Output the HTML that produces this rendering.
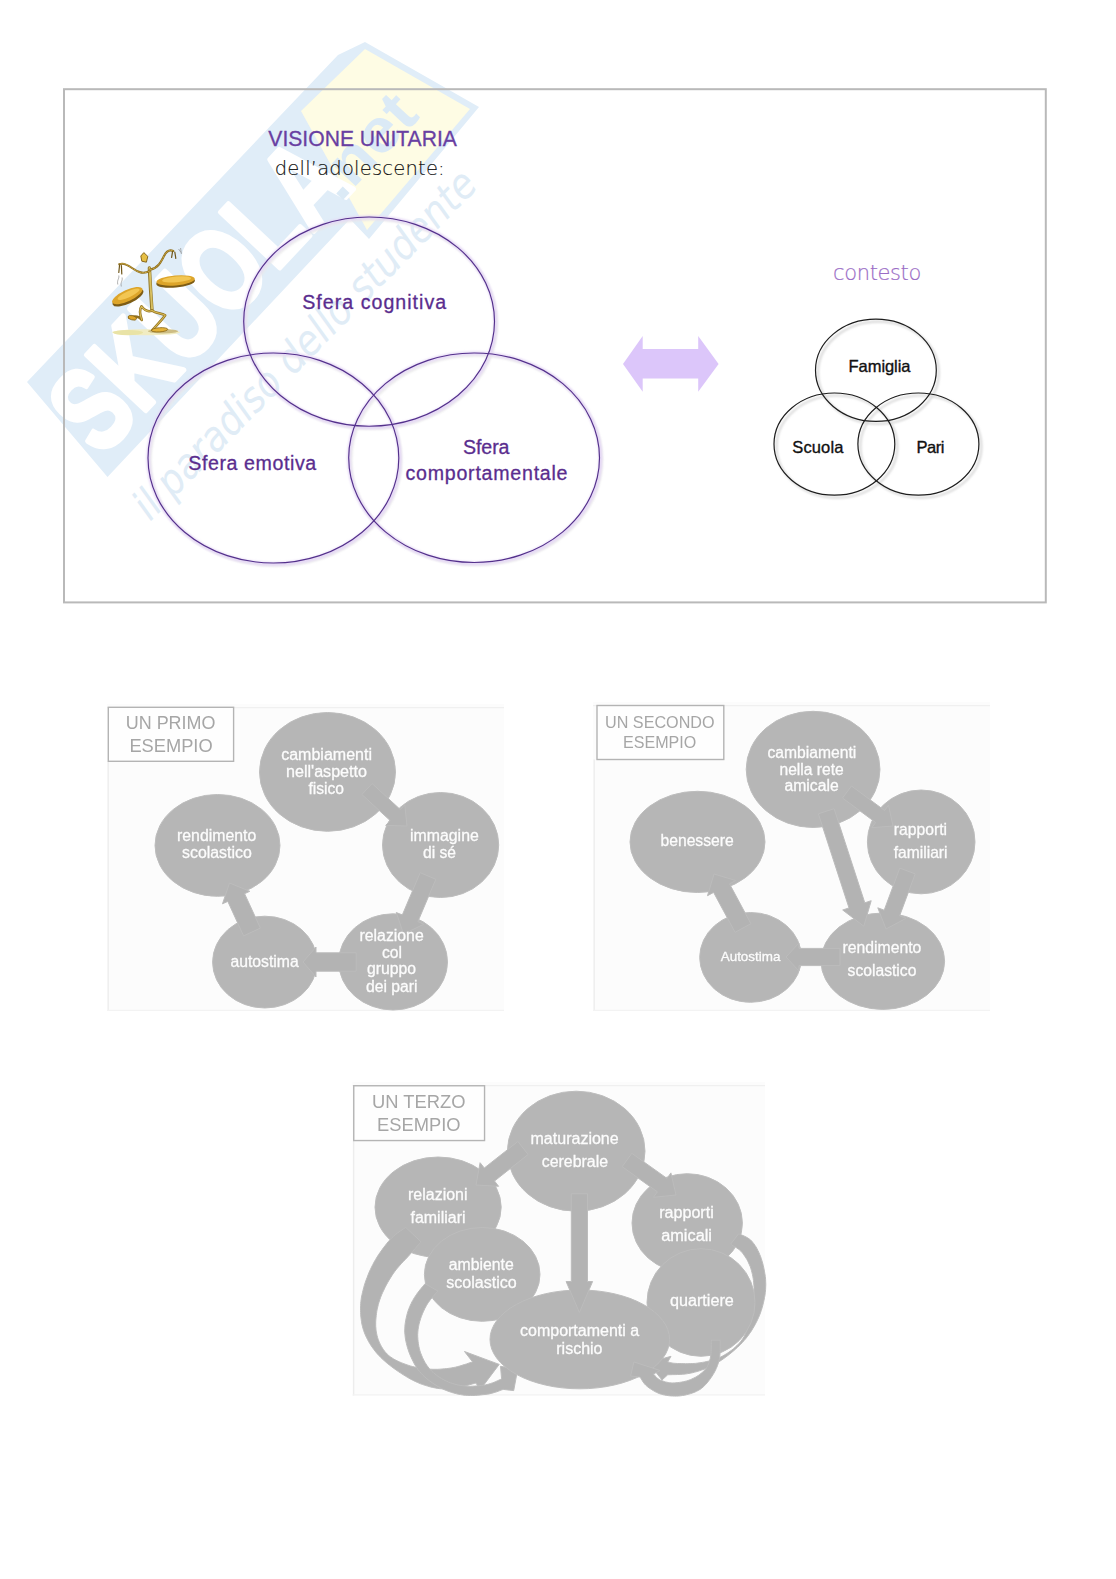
<!DOCTYPE html>
<html lang="it">
<head>
<meta charset="utf-8">
<title>Visione unitaria dell'adolescente</title>
<style>
html,body{margin:0;padding:0;background:#fff;}
body{width:1116px;height:1579px;overflow:hidden;position:relative;font-family:"Liberation Sans","DejaVu Sans",sans-serif;}
svg{position:absolute;left:0;top:0;display:block;}
text{font-family:"Liberation Sans","DejaVu Sans",sans-serif;}
.ttl{font-size:21.8px;fill:#693fa2;stroke:#693fa2;stroke-width:.3px;}
.sub{font-family:"DejaVu Sans Light","DejaVu Sans","Liberation Sans",sans-serif;font-weight:200;font-size:19.5px;fill:#111;stroke:#111;stroke-width:.15px;}
.sf{font-size:19.6px;fill:#5a2d8e;stroke:#5a2d8e;stroke-width:.3px;}
.ctx{font-family:"DejaVu Sans Light","DejaVu Sans","Liberation Sans",sans-serif;font-weight:200;font-size:21px;fill:#9a6cc6;stroke:#9a6cc6;stroke-width:.2px;}
.bk{font-size:16.5px;fill:#111;stroke:#111;stroke-width:.35px;}
.pe{fill:none;stroke:#53308b;stroke-width:1.15px;}
.pg{fill:none;stroke:#e4d6f5;stroke-width:3.5px;}
.be{fill:none;stroke:#1d1d1d;stroke-width:1.2px;}
.bs{fill:none;stroke:#d9d9d9;stroke-width:2.2px;}
.ge{fill:#b6b6b6;stroke:#bdbdbd;stroke-width:1px;}
.ga{fill:#b3b3b3;stroke:#bcbcbc;stroke-width:1px;stroke-linejoin:miter;}
.gt{fill:#fcfcfc;stroke:#fcfcfc;stroke-width:.3px;text-anchor:middle;}
.lb{fill:#fefefe;stroke:#b4b4b4;stroke-width:1.4px;}
.lt{fill:#a6a6a6;text-anchor:middle;}
</style>
</head>
<body>
<svg width="1116" height="1579" viewBox="0 0 1116 1579">
<defs>
<filter id="bl1" x="-10%" y="-10%" width="120%" height="120%"><feGaussianBlur stdDeviation="1.2"/></filter>
<filter id="bl2" x="-10%" y="-10%" width="120%" height="120%"><feGaussianBlur stdDeviation="0.55"/></filter>
<filter id="bl3" x="-10%" y="-10%" width="120%" height="120%"><feGaussianBlur stdDeviation="0.6"/></filter>
</defs>
<rect x="0" y="0" width="1116" height="1579" fill="#ffffff"/>

<!-- watermark -->
<g id="watermark">
<polygon points="27,382 338,55 365,42 479,107 369,239 350,219 107.5,477" fill="#e0edf8"/>
<polygon points="365,49 470,109 367,230 301,111" fill="#fefce4"/>
<g transform="translate(101,458) rotate(-46.8)">
<text x="0" y="0" font-size="118" font-weight="bold" fill="#ffffff" stroke="#ffffff" stroke-width="5" stroke-linejoin="round" textLength="372" lengthAdjust="spacingAndGlyphs">SKUOLA</text>
</g>
<g transform="translate(340,203) rotate(-46.8)">
<text x="0" y="0" font-size="62" font-weight="bold" fill="#dbeaf6" textLength="118" lengthAdjust="spacingAndGlyphs">.net</text>
</g>
<g transform="translate(150,522) rotate(-45.5)">
<text x="0" y="0" font-size="42" font-style="italic" fill="#e0ecf6" textLength="470" lengthAdjust="spacingAndGlyphs" style="font-family:'DejaVu Sans','Liberation Sans',sans-serif">il paradiso dello studente</text>
</g>
</g>
<rect x="64" y="89.2" width="981.8" height="513.2" fill="none" stroke="#b9b9b9" stroke-width="2"/>
<text class="ttl" x="268.3" y="146.2" textLength="188.6" lengthAdjust="spacingAndGlyphs">VISIONE UNITARIA</text>
<text class="sub" x="274.7" y="174.5" textLength="170" lengthAdjust="spacing">dell’adolescente:</text>
<ellipse cx="371.3" cy="324.0" rx="125.4" ry="104.6" fill="none" stroke="#e9e9e9" stroke-width="2.4" filter="url(#bl1)"/>
<ellipse class="pg" cx="369.70000000000005" cy="322.20000000000005" rx="125.80000000000001" ry="105.0" filter="url(#bl1)"/>
<ellipse cx="275.59999999999997" cy="460.4" rx="125.4" ry="105" fill="none" stroke="#e9e9e9" stroke-width="2.4" filter="url(#bl1)"/>
<ellipse class="pg" cx="274.0" cy="458.6" rx="125.80000000000001" ry="105.4" filter="url(#bl1)"/>
<ellipse cx="476.3" cy="460.15" rx="125.4" ry="104.75" fill="none" stroke="#e9e9e9" stroke-width="2.4" filter="url(#bl1)"/>
<ellipse class="pg" cx="474.70000000000005" cy="458.35" rx="125.80000000000001" ry="105.15" filter="url(#bl1)"/>
<ellipse class="pe" cx="369.1" cy="321.6" rx="125.4" ry="104.6"/>
<ellipse class="pe" cx="273.4" cy="458" rx="125.4" ry="105"/>
<ellipse class="pe" cx="474.1" cy="457.75" rx="125.4" ry="104.75"/>
<text class="sf" x="302.2" y="308.6" textLength="144" lengthAdjust="spacing">Sfera cognitiva</text>
<text class="sf" x="188.25" y="470" textLength="128" lengthAdjust="spacing">Sfera emotiva</text>
<text class="sf" x="463" y="453.75" textLength="46.5" lengthAdjust="spacing">Sfera</text>
<text class="sf" x="405.5" y="479.5" textLength="162" lengthAdjust="spacing">comportamentale</text>
<polygon points="623,363.9 642.7,336.1 642.7,349.1 698.2,349.1 698.2,336.1 718.6,363.9 698.2,391.8 698.2,378.4 642.7,378.4 642.7,391.8" fill="#dcc6fa"/>
<text class="ctx" x="833.1" y="279.7" textLength="88.2" lengthAdjust="spacing">contesto</text>
<ellipse class="bs" cx="878.4" cy="372.8" rx="60.4" ry="51.1" filter="url(#bl1)"/>
<ellipse class="bs" cx="836.9" cy="446.6" rx="60.4" ry="51.1" filter="url(#bl1)"/>
<ellipse class="bs" cx="920.9" cy="446.6" rx="60.5" ry="51.1" filter="url(#bl1)"/>
<ellipse class="be" cx="875.9" cy="370.3" rx="60.4" ry="51.1"/>
<ellipse class="be" cx="834.4" cy="444.1" rx="60.4" ry="51.1"/>
<ellipse class="be" cx="918.4" cy="444.1" rx="60.5" ry="51.1"/>
<text class="bk" x="848.6" y="371.9" textLength="61.9" lengthAdjust="spacing">Famiglia</text>
<text class="bk" x="792.3" y="452.8" textLength="51.1" lengthAdjust="spacing">Scuola</text>
<text class="bk" x="916.6" y="452.8" textLength="27.9" lengthAdjust="spacing">Pari</text>
<g id="mascot">
<ellipse cx="146" cy="332.3" rx="34" ry="3" fill="#f1ecc2" filter="url(#bl3)"/>
<ellipse cx="128" cy="332.6" rx="15" ry="2.6" fill="#e9e3a6" filter="url(#bl3)"/>
<ellipse cx="163" cy="331.2" rx="15" ry="2.2" fill="#cdbd84" filter="url(#bl3)"/>
<g filter="url(#bl2)">
<ellipse cx="128" cy="297.6" rx="16.8" ry="6" transform="rotate(-25 128 297.6)" fill="#7d5c12"/>
<ellipse cx="127.3" cy="295.6" rx="16.6" ry="5.6" transform="rotate(-25 127.3 295.6)" fill="#dda52a"/>
<ellipse cx="128.6" cy="294.2" rx="12" ry="3" transform="rotate(-25 128.6 294.2)" fill="#f2c653"/>
<ellipse cx="175.6" cy="282.2" rx="19.4" ry="5.4" transform="rotate(-5 175.6 282.2)" fill="#7d5c12"/>
<ellipse cx="175.6" cy="280.4" rx="19.2" ry="5" transform="rotate(-5 175.6 280.4)" fill="#dda52a"/>
<ellipse cx="176.6" cy="279.4" rx="14.5" ry="2.8" transform="rotate(-5 176.6 279.4)" fill="#f2c653"/>
<path d="M149.4 268 L150.6 290 L152 310.5" fill="none" stroke="#8f7426" stroke-width="3.4" stroke-linecap="round"/>
<path d="M149.6 268 L150.8 290 L152.2 310.5" fill="none" stroke="#d8c061" stroke-width="1.9" stroke-linecap="round"/>
<path d="M149.8 271 C143 274.5 138 272.2 132 268 C127 264.4 123 262.4 119.3 264.3" fill="none" stroke="#8d6d1d" stroke-width="2.1" stroke-linecap="round"/>
<path d="M150.4 269.6 C158 268 161 262 164 256 C166.5 251 169.5 249.3 173.2 251" fill="none" stroke="#8d6d1d" stroke-width="2.1" stroke-linecap="round"/>
<path d="M149.8 271 C143 274.5 138 272.2 132 268 C127 264.4 123 262.4 119.3 264.3 M150.4 269.6 C158 268 161 262 164 256 C166.5 251 169.5 249.3 173.2 251" fill="none" stroke="#d2b04a" stroke-width=".9" stroke-dasharray="1.6 1.4" stroke-linecap="round"/>
<path d="M119.6 264.8 L118.8 272.5 M121.4 265.6 L121.8 274 M172.6 251.4 L171.6 257.4 M174.8 252 L175.8 258.4" fill="none" stroke="#6f561a" stroke-width="1.2" stroke-linecap="round"/>
<path d="M117.8 284.5 C116.8 279.5 119.3 279.5 118.8 275.5 M121.3 286.5 C120.3 281.5 122.8 281.5 122.1 277.5 M178.6 249 L181 252.5 M180.6 248 L181.4 254" fill="none" stroke="#8e8e8e" stroke-width=".7"/>
<polygon points="143.8,252.6 147.8,256.4 146.4,262.2 141.8,261.2 140.8,256" fill="#e6bf45" stroke="#7d5c12" stroke-width=".9"/>
<path d="M152 310.5 C147.5 312.6 144 309.6 141.5 306.3 C139.6 309 140 315 141.8 320 C139 316 134 316 129.3 317.6" fill="none" stroke="#8f7020" stroke-width="2.5" stroke-linecap="round" stroke-linejoin="round"/>
<path d="M152 310.5 C156 313.6 161 312.8 165.2 315.3 C162 320 157 325 152.3 330" fill="none" stroke="#8f7020" stroke-width="2.5" stroke-linecap="round" stroke-linejoin="round"/>
<path d="M152 310.5 C147.5 312.6 144 309.6 141.5 306.3 C139.6 309 140 315 141.8 320 M152 310.5 C156 313.6 161 312.8 165.2 315.3 C162 320 157 325 152.3 330" fill="none" stroke="#d9bb55" stroke-width="1.1" stroke-linecap="round" stroke-linejoin="round"/>
<ellipse cx="132.3" cy="317.8" rx="4.4" ry="2.1" transform="rotate(14 132.3 317.8)" fill="#dda52a" stroke="#7d5c12" stroke-width=".7"/>
<ellipse cx="159.6" cy="329.8" rx="8.2" ry="2.1" transform="rotate(-4 159.6 329.8)" fill="#e4b338" stroke="#7d5c12" stroke-width=".7"/>
</g></g>
<g id="d1" filter="url(#bl2)">
<rect x="107" y="704" width="397" height="307" fill="#fcfcfc"/>
<rect x="107" y="707" width="397" height="1.2" fill="#f0f0f0"/>
<rect x="107.6" y="761.3" width="1.2" height="249.7" fill="#ececec"/>
<rect x="107" y="1009.8" width="397" height="1.2" fill="#f3f3f3"/>
<rect class="lb" x="108.3" y="707.3" width="125.3" height="54"/>
<text class="lt" font-size="18.3" x="170.6" y="729.4" textLength="89.7" lengthAdjust="spacingAndGlyphs">UN PRIMO</text>
<text class="lt" font-size="18.3" x="171" y="752" textLength="83.2" lengthAdjust="spacingAndGlyphs">ESEMPIO</text>
<ellipse class="ge" cx="327.5" cy="771.9" rx="68" ry="59.4"/>
<ellipse class="ge" cx="440.6" cy="845" rx="58.1" ry="52.5"/>
<ellipse class="ge" cx="393.1" cy="961.9" rx="54.4" ry="48.1"/>
<ellipse class="ge" cx="264.8" cy="962.1" rx="52.2" ry="45.9"/>
<ellipse class="ge" cx="217.5" cy="845.4" rx="62.5" ry="50.9"/>
<polygon class="ga" points="361.9,794.5 390.2,820.6 385.7,825.4 407,826 404.8,804.9 400.3,809.6 372.1,783.5"/>
<polygon class="ga" points="420.2,872.7 402.3,915 396.3,912.5 403.5,934 423.9,924.2 417.9,921.6 435.8,879.3"/>
<polygon class="ga" points="356.2,952.8 316,952.8 316,947 303,962 316,977 316,971.2 356.2,971.2"/>
<polygon class="ga" points="260.4,928.1 244.6,893.7 249.8,891.3 229.5,883 222.5,903.8 227.8,901.4 243.6,935.9"/>
<text class="gt" font-size="16" x="326.6" y="760" textLength="90.8" lengthAdjust="spacingAndGlyphs">cambiamenti</text>
<text class="gt" font-size="16" x="326.5" y="777" textLength="81" lengthAdjust="spacingAndGlyphs">nell'aspetto</text>
<text class="gt" font-size="16" x="326.2" y="793.8" textLength="35.5" lengthAdjust="spacingAndGlyphs">fisico</text>
<text class="gt" font-size="16" x="444.4" y="840.5" textLength="68.8" lengthAdjust="spacingAndGlyphs">immagine</text>
<text class="gt" font-size="16" x="439.5" y="857.5" textLength="33" lengthAdjust="spacingAndGlyphs">di sé</text>
<text class="gt" font-size="16" x="391.6" y="940.5" textLength="64.2" lengthAdjust="spacingAndGlyphs">relazione</text>
<text class="gt" font-size="16" x="392" y="957.5" textLength="20" lengthAdjust="spacingAndGlyphs">col</text>
<text class="gt" font-size="16" x="391.5" y="973.8" textLength="49" lengthAdjust="spacingAndGlyphs">gruppo</text>
<text class="gt" font-size="16" x="391.8" y="991.5" textLength="51.5" lengthAdjust="spacingAndGlyphs">dei pari</text>
<text class="gt" font-size="16" x="216.6" y="840.5" textLength="79.2" lengthAdjust="spacingAndGlyphs">rendimento</text>
<text class="gt" font-size="16" x="216.9" y="858" textLength="69.8" lengthAdjust="spacingAndGlyphs">scolastico</text>
<text class="gt" font-size="16" x="264.6" y="967" textLength="68.2" lengthAdjust="spacingAndGlyphs">autostima</text>
</g>
<g id="d2" filter="url(#bl2)">
<rect x="593" y="702" width="397" height="309" fill="#fcfcfc"/>
<rect x="593" y="705" width="397" height="1.2" fill="#f0f0f0"/>
<rect x="593.6" y="759.5" width="1.2" height="251.5" fill="#ececec"/>
<rect x="593" y="1009.8" width="397" height="1.2" fill="#f3f3f3"/>
<rect class="lb" x="597" y="705.5" width="126.8" height="54"/>
<text class="lt" font-size="16.4" x="659.8" y="728" textLength="109.5" lengthAdjust="spacingAndGlyphs">UN SECONDO</text>
<text class="lt" font-size="16.4" x="659.6" y="748" textLength="73.2" lengthAdjust="spacingAndGlyphs">ESEMPIO</text>
<ellipse class="ge" cx="813.1" cy="769.4" rx="66.9" ry="58.1"/>
<ellipse class="ge" cx="921.2" cy="841.9" rx="53.8" ry="51.9"/>
<ellipse class="ge" cx="882.8" cy="961.2" rx="61.8" ry="48.2"/>
<ellipse class="ge" cx="750.6" cy="957.4" rx="50.9" ry="44.9"/>
<ellipse class="ge" cx="697.5" cy="841.9" rx="67.5" ry="50.6"/>
<polygon class="ga" points="842.5,798 875.7,822.5 871.8,827.7 893,826 888.5,805.2 884.6,810.5 851.5,786"/>
<polygon class="ga" points="818.4,813.8 849,907.9 842.7,910 863.8,926.2 871.2,900.7 864.8,902.8 834.1,808.7"/>
<polygon class="ga" points="899.8,868.1 884.2,910.2 877.8,907.8 886,929 906,918.3 899.6,915.9 915.2,873.9"/>
<polygon class="ga" points="840,948.4 799,948.4 799,943 786,957 799,971 799,965.6 840,965.6"/>
<polygon class="ga" points="750.9,923.7 729.5,883.8 735.7,880.5 714,874 707.5,895.7 713.6,892.4 735.1,932.3"/>
<text class="gt" font-size="15.6" x="811.9" y="757.5" textLength="88.8" lengthAdjust="spacingAndGlyphs">cambiamenti</text>
<text class="gt" font-size="15.6" x="811.6" y="774.5" textLength="64.2" lengthAdjust="spacingAndGlyphs">nella rete</text>
<text class="gt" font-size="15.6" x="811.6" y="791.2" textLength="54.2" lengthAdjust="spacingAndGlyphs">amicale</text>
<text class="gt" font-size="15.7" x="920.4" y="834.5" textLength="53.2" lengthAdjust="spacingAndGlyphs">rapporti</text>
<text class="gt" font-size="15.7" x="920.6" y="857.5" textLength="53.8" lengthAdjust="spacingAndGlyphs">familiari</text>
<text class="gt" font-size="15.8" x="881.9" y="953" textLength="78.8" lengthAdjust="spacingAndGlyphs">rendimento</text>
<text class="gt" font-size="15.8" x="882" y="976.3" textLength="68.8" lengthAdjust="spacingAndGlyphs">scolastico</text>
<text class="gt" font-size="15.7" x="697.1" y="846.2" textLength="73.2" lengthAdjust="spacingAndGlyphs">benessere</text>
<text class="gt" font-size="13.4" x="750.6" y="961.2" textLength="59.8" lengthAdjust="spacingAndGlyphs">Autostima</text>
</g>
<g id="d3" filter="url(#bl2)">
<rect x="352.5" y="1082" width="412.5" height="313.5" fill="#fcfcfc"/>
<rect x="352.5" y="1085" width="412.5" height="1.2" fill="#f0f0f0"/>
<rect x="353.1" y="1140.5" width="1.2" height="255" fill="#ececec"/>
<rect x="352.5" y="1394.3" width="412.5" height="1.2" fill="#f3f3f3"/>
<rect class="lb" x="353.75" y="1085.75" width="130.8" height="54.8"/>
<text class="lt" font-size="18.5" x="418.8" y="1108.25" textLength="93.5" lengthAdjust="spacingAndGlyphs">UN TERZO</text>
<text class="lt" font-size="18.5" x="418.8" y="1130.5" textLength="83.5" lengthAdjust="spacingAndGlyphs">ESEMPIO</text>
<ellipse class="ge" cx="576.2" cy="1151.2" rx="68.8" ry="60"/>
<ellipse class="ge" cx="438.1" cy="1207.2" rx="63.1" ry="50.2"/>
<ellipse class="ge" cx="687.2" cy="1223.1" rx="55.2" ry="49.4"/>
<polygon class="ga" points="738.7,1233.7 739.5,1234.1 740.5,1234.5 741.7,1235 743.1,1235.6 744.5,1236.2 746.1,1237 747.6,1237.8 749,1238.8 750.4,1239.8 751.6,1241 752.7,1242.3 753.8,1243.7 754.9,1245.3 756,1246.9 757,1248.7 757.9,1250.5 758.9,1252.5 759.7,1254.5 760.6,1256.6 761.3,1258.7 762,1261 762.7,1263.3 763.3,1265.8 763.9,1268.4 764.4,1271.1 764.9,1273.8 765.3,1276.5 765.6,1279.2 765.7,1281.9 765.8,1284.5 765.7,1287.1 765.6,1289.7 765.3,1292.3 765,1295 764.5,1297.6 764,1300.2 763.4,1302.8 762.8,1305.3 762.1,1307.8 761.3,1310.3 760.5,1312.7 759.6,1315.1 758.6,1317.5 757.5,1319.8 756.4,1322.1 755.2,1324.4 754,1326.6 752.7,1328.7 751.4,1330.9 750,1332.9 748.6,1334.9 747.2,1336.8 745.7,1338.7 744.1,1340.5 742.6,1342.2 740.9,1344 739.2,1345.7 737.5,1347.3 735.7,1349 733.9,1350.6 732,1352.2 730,1353.8 728,1355.4 725.9,1357 723.8,1358.5 721.7,1360 719.5,1361.4 717.3,1362.8 715.1,1364 712.9,1365.2 710.7,1366.3 708.5,1367.3 706.2,1368.3 704,1369.2 701.7,1370 699.4,1370.8 697.1,1371.5 694.8,1372.1 692.6,1372.7 690.3,1373.2 687.9,1373.6 685.4,1374 682.8,1374.2 680.2,1374.4 677.6,1374.5 675.1,1374.6 672.8,1374.6 670.8,1374.7 669,1374.7 667.7,1374.8 662,1380 648.4,1362.7 671,1356.3 667.7,1362 668.2,1362.1 668.8,1362.2 669.5,1362.4 670.3,1362.6 671.1,1362.8 672.1,1363 673.2,1363.2 674.5,1363.3 675.9,1363.4 677.4,1363.5 679.1,1363.5 681.1,1363.6 683.2,1363.6 685.5,1363.7 687.9,1363.7 690.3,1363.6 692.8,1363.5 695.3,1363.4 697.7,1363.1 700,1362.8 702.3,1362.4 704.6,1362 706.9,1361.5 709.2,1361 711.5,1360.4 713.8,1359.7 716.1,1358.9 718.3,1358 720.5,1357.1 722.6,1356 724.7,1354.8 726.9,1353.5 729,1352.1 731.1,1350.6 733.2,1349 735.1,1347.3 737,1345.5 738.8,1343.7 740.4,1341.9 741.9,1340 743.2,1338.1 744.3,1336.1 745.3,1334 746.1,1331.9 746.9,1329.8 747.6,1327.5 748.2,1325.2 748.8,1322.9 749.4,1320.5 750,1318 750.6,1315.4 751.2,1312.7 751.7,1309.8 752.2,1306.9 752.7,1304 753.1,1301 753.5,1298.1 753.7,1295.3 753.9,1292.6 754,1290 754,1287.6 753.9,1285.2 753.7,1282.9 753.5,1280.6 753.2,1278.5 752.8,1276.3 752.4,1274.3 751.9,1272.3 751.4,1270.3 750.8,1268.4 750.2,1266.5 749.4,1264.7 748.6,1262.9 747.8,1261.2 746.9,1259.5 745.9,1257.9 744.9,1256.4 743.9,1254.9 742.9,1253.6 741.9,1252.3 740.8,1251.1 739.6,1250 738.3,1249 737,1248.1 735.7,1247.2 734.4,1246.5 733.2,1245.8 732.2,1245.2 731.3,1244.6 730.6,1244.2"/>
<ellipse class="ge" cx="482.2" cy="1274.4" rx="57.8" ry="46.9"/>
<ellipse class="ge" cx="701" cy="1302.5" rx="54" ry="53.8"/>
<polygon class="ga" points="405.6,1227.3 404.7,1228 403.5,1228.8 402.2,1229.7 400.6,1230.8 399,1231.9 397.2,1233.2 395.4,1234.6 393.7,1236.1 391.9,1237.7 390.3,1239.4 388.7,1241.2 387,1243.2 385.4,1245.3 383.6,1247.5 382,1249.8 380.3,1252.2 378.6,1254.6 377.1,1257 375.6,1259.5 374.2,1261.9 372.9,1264.4 371.6,1266.9 370.4,1269.5 369.2,1272.1 368.1,1274.8 367.1,1277.5 366.1,1280.1 365.2,1282.7 364.4,1285.2 363.7,1287.7 363.1,1290.1 362.5,1292.4 362,1294.7 361.5,1297 361.2,1299.2 360.9,1301.4 360.7,1303.6 360.6,1305.8 360.5,1308.1 360.5,1310.3 360.6,1312.6 360.7,1314.8 360.9,1317.1 361.2,1319.4 361.5,1321.7 361.9,1324 362.4,1326.2 363,1328.5 363.7,1330.7 364.5,1332.9 365.4,1335.1 366.4,1337.3 367.5,1339.4 368.6,1341.6 369.9,1343.7 371.2,1345.8 372.7,1347.9 374.2,1349.9 375.7,1351.9 377.4,1353.9 379.2,1355.8 381,1357.7 383,1359.6 385.1,1361.4 387.2,1363.3 389.4,1365 391.6,1366.7 393.9,1368.4 396.1,1370 398.4,1371.6 400.7,1373.1 403,1374.6 405.4,1376.1 407.8,1377.5 410.2,1378.9 412.7,1380.2 415.2,1381.4 417.6,1382.5 420.1,1383.6 422.6,1384.5 425.1,1385.3 427.6,1386.1 430,1386.8 432.5,1387.4 435.1,1387.9 437.6,1388.4 440.2,1388.7 442.7,1388.9 445.3,1389 448,1389 450.8,1388.8 453.9,1388.4 457.1,1387.8 460.4,1387.1 463.6,1386.3 466.7,1385.5 469.6,1384.7 472.2,1384 474.3,1383.4 476,1383 480,1390 499.2,1364.4 464.5,1351.5 472.6,1361.9 471.5,1362.3 470,1362.7 468.3,1363.3 466.4,1364 464.3,1364.6 462.1,1365.3 459.9,1366 457.6,1366.6 455.4,1367.2 453.2,1367.6 451.1,1368 448.9,1368.3 446.7,1368.6 444.4,1368.8 442.1,1369 439.8,1369.2 437.5,1369.3 435.2,1369.3 432.9,1369.3 430.6,1369.2 428.3,1369.1 426,1368.8 423.7,1368.6 421.4,1368.3 419.2,1367.9 416.9,1367.5 414.6,1367 412.4,1366.5 410.2,1365.9 408.1,1365.2 406,1364.5 403.9,1363.7 401.8,1362.9 399.7,1362 397.7,1361.1 395.7,1360.1 393.8,1359.1 392,1357.9 390.3,1356.8 388.7,1355.5 387.3,1354.2 385.9,1352.7 384.6,1351.2 383.5,1349.7 382.4,1348.1 381.4,1346.4 380.5,1344.7 379.6,1342.9 378.9,1341.2 378.2,1339.4 377.6,1337.6 377.1,1335.8 376.7,1333.9 376.3,1332 376,1330.1 375.9,1328.1 375.7,1326.2 375.7,1324.1 375.7,1322.1 375.8,1320 376,1317.9 376.2,1315.7 376.5,1313.5 376.8,1311.3 377.2,1309 377.8,1306.7 378.3,1304.4 379,1302.1 379.8,1299.7 380.6,1297.4 381.5,1295 382.6,1292.6 383.8,1290.1 385,1287.6 386.3,1285 387.7,1282.5 389.1,1280.1 390.6,1277.7 392,1275.4 393.5,1273.2 395,1271.1 396.6,1269 398.3,1267.1 400,1265.1 401.7,1263.2 403.4,1261.4 405.1,1259.7 406.7,1258 408.3,1256.3 409.7,1254.7 411.1,1253.1 412.5,1251.6 413.8,1250 415.1,1248.5 416.4,1247.1 417.5,1245.8 418.6,1244.5 419.5,1243.5 420.3,1242.5 421,1241.8"/>
<polygon class="ga" points="425,1283.7 424.4,1284.5 423.5,1285.5 422.5,1286.7 421.4,1288.1 420.2,1289.5 419,1291.1 417.7,1292.7 416.6,1294.3 415.5,1295.9 414.5,1297.4 413.6,1298.9 412.8,1300.4 411.9,1301.9 411.2,1303.5 410.4,1305.1 409.7,1306.7 409,1308.4 408.4,1310 407.8,1311.7 407.3,1313.5 406.8,1315.3 406.4,1317.1 406,1319 405.6,1320.9 405.3,1322.9 405,1324.9 404.9,1326.9 404.8,1328.9 404.7,1330.9 404.8,1332.9 405,1334.9 405.2,1337 405.5,1339.1 405.9,1341.3 406.4,1343.4 406.9,1345.5 407.5,1347.7 408.2,1349.8 408.9,1351.9 409.7,1353.9 410.5,1355.9 411.4,1357.9 412.4,1360 413.4,1362 414.4,1364 415.6,1365.9 416.8,1367.8 418.1,1369.7 419.5,1371.5 421,1373.2 422.6,1374.9 424.3,1376.5 426.1,1378.1 428,1379.7 429.9,1381.2 432,1382.6 434,1384 436.1,1385.3 438.2,1386.6 440.3,1387.7 442.4,1388.8 444.6,1389.8 446.8,1390.7 449,1391.5 451.3,1392.3 453.6,1393 455.9,1393.6 458.2,1394.2 460.6,1394.6 462.9,1395 465.3,1395.3 467.8,1395.4 470.3,1395.5 472.9,1395.5 475.4,1395.4 477.9,1395.2 480.4,1395 482.8,1394.7 485,1394.5 487.1,1394.2 489.1,1393.9 491.1,1393.4 493,1392.9 494.9,1392.3 496.7,1391.8 498.3,1391.2 499.8,1390.6 501.1,1390.1 502.3,1389.7 503.2,1389.4 513.7,1390.6 517.7,1369.2 500.5,1366.3 501.6,1378.9 500.8,1379.3 499.7,1379.7 498.5,1380.3 497.2,1380.9 495.7,1381.6 494.1,1382.3 492.4,1382.9 490.6,1383.5 488.9,1384.1 487.1,1384.5 485.3,1384.9 483.3,1385.2 481.2,1385.5 479.1,1385.7 476.9,1385.9 474.7,1386.1 472.5,1386.2 470.3,1386.3 468.2,1386.2 466.1,1386.1 464.1,1385.9 462.1,1385.7 460.1,1385.3 458.1,1385 456.1,1384.5 454.2,1384 452.3,1383.4 450.4,1382.8 448.6,1382.1 446.8,1381.3 445,1380.5 443.3,1379.5 441.5,1378.5 439.8,1377.5 438.1,1376.4 436.5,1375.2 434.9,1373.9 433.4,1372.7 431.9,1371.4 430.6,1370 429.3,1368.6 428.2,1367.1 427,1365.6 426,1364 425,1362.4 424.1,1360.7 423.2,1359 422.4,1357.3 421.7,1355.6 421,1353.9 420.4,1352.2 419.8,1350.4 419.4,1348.6 418.9,1346.8 418.6,1345 418.3,1343.2 418.1,1341.4 417.9,1339.6 417.8,1337.8 417.7,1336.1 417.7,1334.4 417.8,1332.8 417.9,1331.1 418.1,1329.5 418.3,1327.9 418.6,1326.4 418.9,1324.8 419.3,1323.2 419.7,1321.6 420.2,1320 420.7,1318.4 421.3,1316.7 421.9,1315.1 422.6,1313.4 423.3,1311.8 424.1,1310.1 424.8,1308.5 425.7,1306.9 426.5,1305.4 427.4,1303.9 428.4,1302.4 429.5,1300.9 430.6,1299.4 431.9,1297.9 433.1,1296.4 434.3,1295.1 435.4,1293.8 436.4,1292.7 437.3,1291.8 437.9,1291"/>
<ellipse class="ge" cx="579.8" cy="1339.4" rx="89.8" ry="49.4"/>
<polygon class="ga" points="720.2,1340.2 720.2,1341.3 720.2,1342.8 720.2,1344.5 720.2,1346.4 720.2,1348.4 720.2,1350.6 720.1,1352.7 719.9,1354.9 719.7,1356.9 719.4,1358.7 719,1360.4 718.6,1362.1 718.1,1363.8 717.5,1365.4 716.9,1367 716.2,1368.6 715.5,1370.2 714.7,1371.7 713.8,1373.3 712.9,1374.8 711.9,1376.4 710.8,1377.9 709.7,1379.5 708.5,1381.1 707.3,1382.7 705.9,1384.2 704.5,1385.7 703.1,1387 701.6,1388.3 700,1389.4 698.3,1390.4 696.5,1391.3 694.7,1392.2 692.7,1392.9 690.7,1393.6 688.7,1394.2 686.6,1394.7 684.6,1395.2 682.6,1395.5 680.6,1395.8 678.6,1396 676.7,1396.1 674.7,1396.1 672.6,1396 670.6,1395.9 668.7,1395.7 666.7,1395.4 664.9,1395.1 663,1394.7 661.3,1394.2 659.6,1393.7 658,1393 656.4,1392.3 654.8,1391.5 653.3,1390.6 651.8,1389.7 650.4,1388.8 649.1,1387.9 647.9,1387 646.8,1386.1 645.8,1385.2 644.8,1384.2 644,1383.2 643.2,1382.1 642.5,1381 641.9,1380 641.3,1379.1 640.8,1378.3 640.4,1377.5 640,1377 630.6,1376 633.9,1361.9 660,1370.5 653.5,1374 653.8,1374.4 654.2,1374.8 654.7,1375.4 655.2,1376 655.8,1376.6 656.4,1377.3 657.2,1378 657.9,1378.6 658.8,1379.2 659.7,1379.7 660.7,1380.2 661.8,1380.6 662.9,1381 664.1,1381.5 665.4,1381.9 666.8,1382.2 668.2,1382.5 669.6,1382.7 671.1,1382.9 672.6,1382.9 674.2,1382.9 675.9,1382.8 677.7,1382.6 679.5,1382.4 681.4,1382.1 683.2,1381.8 685.1,1381.3 686.9,1380.9 688.6,1380.3 690.3,1379.7 691.9,1379 693.5,1378.2 695.2,1377.4 696.8,1376.4 698.3,1375.5 699.8,1374.4 701.2,1373.3 702.5,1372.2 703.7,1371.1 704.8,1370 705.7,1368.9 706.6,1367.7 707.3,1366.5 707.9,1365.3 708.5,1364 709,1362.7 709.4,1361.4 709.8,1360 710.2,1358.6 710.5,1357.1 710.8,1355.5 711,1353.7 711.1,1351.8 711.2,1349.8 711.3,1347.8 711.3,1345.9 711.3,1344.2 711.3,1342.6 711.3,1341.2 711.3,1340.2"/>
<polygon class="ga" points="517.9,1141.5 484.3,1168 480.1,1162.7 476,1185 498.6,1186.3 494.5,1181 528.1,1154.5"/>
<polygon class="ga" points="622.2,1166.7 657.4,1191.8 653.4,1197.3 676,1195 670.9,1172.9 667,1178.4 631.8,1153.3"/>
<polygon class="ga" points="571.3,1193.8 571.3,1281.5 566.1,1281.5 579.4,1312.5 592.6,1281.5 587.5,1281.5 587.5,1193.8"/>
<text class="gt" font-size="16" x="574.6" y="1143.8" textLength="88.2" lengthAdjust="spacingAndGlyphs">maturazione</text>
<text class="gt" font-size="16" x="574.9" y="1166.8" textLength="66.2" lengthAdjust="spacingAndGlyphs">cerebrale</text>
<text class="gt" font-size="16" x="437.8" y="1199.5" textLength="59.5" lengthAdjust="spacingAndGlyphs">relazioni</text>
<text class="gt" font-size="16" x="438" y="1223" textLength="55" lengthAdjust="spacingAndGlyphs">familiari</text>
<text class="gt" font-size="16" x="481.2" y="1270" textLength="65" lengthAdjust="spacingAndGlyphs">ambiente</text>
<text class="gt" font-size="16" x="481.5" y="1287.5" textLength="70.5" lengthAdjust="spacingAndGlyphs">scolastico</text>
<text class="gt" font-size="16" x="686.5" y="1217.5" textLength="54.5" lengthAdjust="spacingAndGlyphs">rapporti</text>
<text class="gt" font-size="16" x="686.6" y="1241.2" textLength="50.8" lengthAdjust="spacingAndGlyphs">amicali</text>
<text class="gt" font-size="16" x="701.9" y="1305.5" textLength="63.8" lengthAdjust="spacingAndGlyphs">quartiere</text>
<text class="gt" font-size="16" x="579.6" y="1336.2" textLength="119.2" lengthAdjust="spacingAndGlyphs">comportamenti a</text>
<text class="gt" font-size="16" x="579.4" y="1353.8" textLength="46.2" lengthAdjust="spacingAndGlyphs">rischio</text>
</g>
</svg>
</body>
</html>
